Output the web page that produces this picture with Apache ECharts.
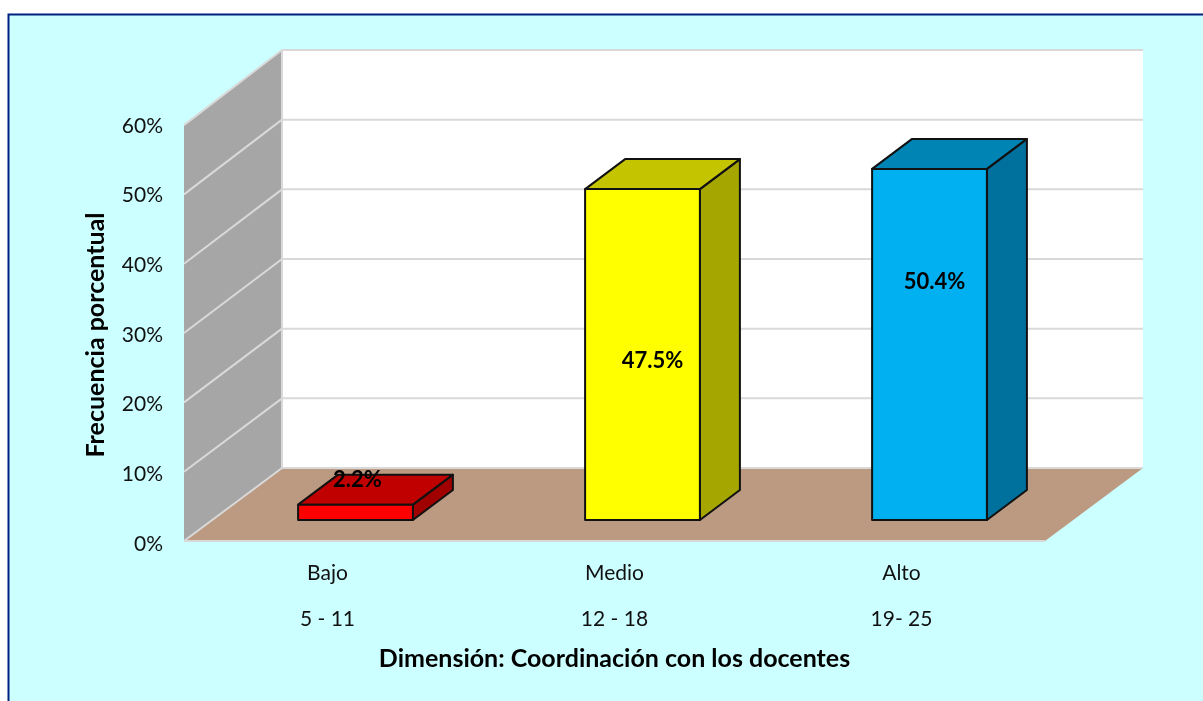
<!DOCTYPE html>
<html>
<head>
<meta charset="utf-8">
<title>Dimensión: Coordinación con los docentes</title>
<script src="https://cdn.jsdelivr.net/npm/echarts@6/dist/echarts.min.js"></script>
<style>
  html, body { margin: 0; padding: 0; background: #fff; overflow: hidden; }
  #main { width: 1203px; height: 701px; }
</style>
</head>
<body>
<div id="main"></div>
<script>
// data
var levels = ['Bajo', 'Medio', 'Alto'];
var ranges = ['5 - 11', '12 - 18', '19- 25'];
var percents = [2.2, 47.5, 50.4];
var yTicks = [0, 10, 20, 30, 40, 50, 60];

// look of the bars: front, top, side
var frontColors = ['#FF0000', '#FFFF00', '#00B0F0'];
var topColors = ['#C00000', '#C4C400', '#0084B4'];
var sideColors = ['#A00000', '#A6A600', '#00709C'];
// the percent labels were moved by hand in the original
var labelNudge = [[2, -10], [10, 187], [5, 128]];

var FONT = 'Lato, "Open Sans", sans-serif';
var DEPTH_X = 98, DEPTH_Y = 73;   // floor depth
var INSET_X = 28, INSET_Y = 21;   // bars sit this far back on the floor
var BAR_X = 40, BAR_Y = 30;       // depth of a bar
var BAR_SHARE = 0.4;
var FRONT_SQUEEZE = 0.995;        // front edge of the side wall is a touch shorter than the back

function poly(points, fill, stroke, width, z2) {
  return {
    type: 'polygon',
    z2: z2 || 0,
    shape: { points: points },
    style: { fill: fill, stroke: stroke || null, lineWidth: width || 0, lineJoin: 'round' }
  };
}

function line(x1, y1, x2, y2) {
  return {
    type: 'line',
    z2: 2,
    shape: { x1: x1, y1: y1, x2: x2, y2: y2 },
    style: { stroke: '#D9D9D9', lineWidth: 2 }
  };
}

// back wall, side wall and floor, with the gridlines running over the walls
function renderWalls(params, api) {
  var c = params.coordSys;
  var left = c.x, right = c.x + c.width, top = c.y, bottom = c.y + c.height;
  var dx = DEPTH_X, dy = DEPTH_Y;
  var frontY = function (y) { return bottom - (bottom - y) * FRONT_SQUEEZE; };
  var children = [
    poly([[left + dx, top - dy], [right + dx, top - dy], [right + dx, bottom - dy], [left + dx, bottom - dy]], '#FFFFFF'),
    poly([[left, frontY(top)], [left + dx, top - dy], [left + dx, bottom - dy], [left, bottom]], '#A6A6A6'),
    poly([[left, bottom], [left + dx, bottom - dy], [right + dx, bottom - dy], [right, bottom]], '#BC9A82'),
    line(left + dx, top - dy, left + dx, bottom - dy)
  ];
  yTicks.forEach(function (t) {
    var y = api.coord([0, t])[1];
    children.push(line(left, frontY(y), left + dx, y - dy));
    children.push(line(left + dx, y - dy, right + dx, y - dy));
  });
  children.push(line(left, bottom, right, bottom));
  return { type: 'group', children: children };
}

function renderBar(params, api) {
  var i = api.value(0);
  var base = api.coord([i, 0]);
  var head = api.coord([i, api.value(1)]);
  var w = api.size([1, 0])[0] * BAR_SHARE;
  var x0 = base[0] - w / 2 + INSET_X, x1 = x0 + w;
  var y0 = base[1] - INSET_Y, y1 = head[1] - INSET_Y;
  var ink = '#111111';
  return {
    type: 'group',
    children: [
      poly([[x1, y0], [x1 + BAR_X, y0 - BAR_Y], [x1 + BAR_X, y1 - BAR_Y], [x1, y1]], sideColors[i], ink, 2),
      poly([[x0, y1], [x0 + BAR_X, y1 - BAR_Y], [x1 + BAR_X, y1 - BAR_Y], [x1, y1]], topColors[i], ink, 2),
      poly([[x0, y0], [x1, y0], [x1, y1], [x0, y1]], frontColors[i], ink, 2),
      {
        type: 'text',
        z2: 5,
        style: {
          x: (x0 + x1) / 2 + labelNudge[i][0],
          y: y1 + labelNudge[i][1] - 15,
          text: api.value(1).toFixed(1) + '%',
          font: 'bold 22px ' + FONT,
          fill: '#000',
          align: 'center',
          verticalAlign: 'middle'
        }
      }
    ]
  };
}

var myChart = echarts.init(document.getElementById('main'), null, { renderer: 'canvas' });

myChart.setOption({
  animation: false,
  backgroundColor: '#FFFFFF',
  textStyle: { fontFamily: FONT },
  graphic: [{
    type: 'rect',
    z: -10,
    shape: { x: 8.5, y: 14.5, width: 1300, height: 800 },
    style: { fill: '#CCFFFF', stroke: '#002080', lineWidth: 2 }
  }],
  grid: { left: 184, right: 158, top: 123, bottom: 160 },
  xAxis: {
    type: 'category',
    data: levels.map(function (l, i) { return l + '\n' + ranges[i]; }),
    axisLine: { show: false },
    axisTick: { show: false },
    axisLabel: { color: '#111', fontSize: 21, fontFamily: FONT, lineHeight: 46, margin: 9 },
    name: 'Dimensión: Coordinación con los docentes',
    nameLocation: 'middle',
    nameGap: 104,
    nameTextStyle: { color: '#000', fontSize: 25, fontWeight: 'bold', fontFamily: FONT }
  },
  yAxis: {
    type: 'value',
    min: 0,
    max: 60,
    interval: 10,
    splitLine: { show: false },
    axisLine: { show: false },
    axisTick: { show: false },
    axisLabel: {
      margin: 21,
      formatter: function (v) { return '{t|' + v + '%}'; },
      rich: { t: { color: '#111', fontSize: 21, fontFamily: FONT, padding: [6, 0, 0, 0] } }
    },
    name: 'Frecuencia porcentual',
    nameLocation: 'middle',
    nameGap: 76,
    nameTextStyle: { color: '#000', fontSize: 25, fontWeight: 'bold', fontFamily: FONT, padding: [0, 6, 0, 0] }
  },
  series: [
    {
      type: 'custom',
      name: 'paredes',
      clip: false,
      z: 1,
      renderItem: renderWalls,
      data: [[0, 0]]
    },
    {
      type: 'custom',
      name: 'Frecuencia porcentual',
      clip: false,
      z: 3,
      renderItem: renderBar,
      encode: { x: 0, y: 1 },
      data: percents.map(function (v, i) { return [i, v]; })
    }
  ]
});
</script>
</body>
</html>
